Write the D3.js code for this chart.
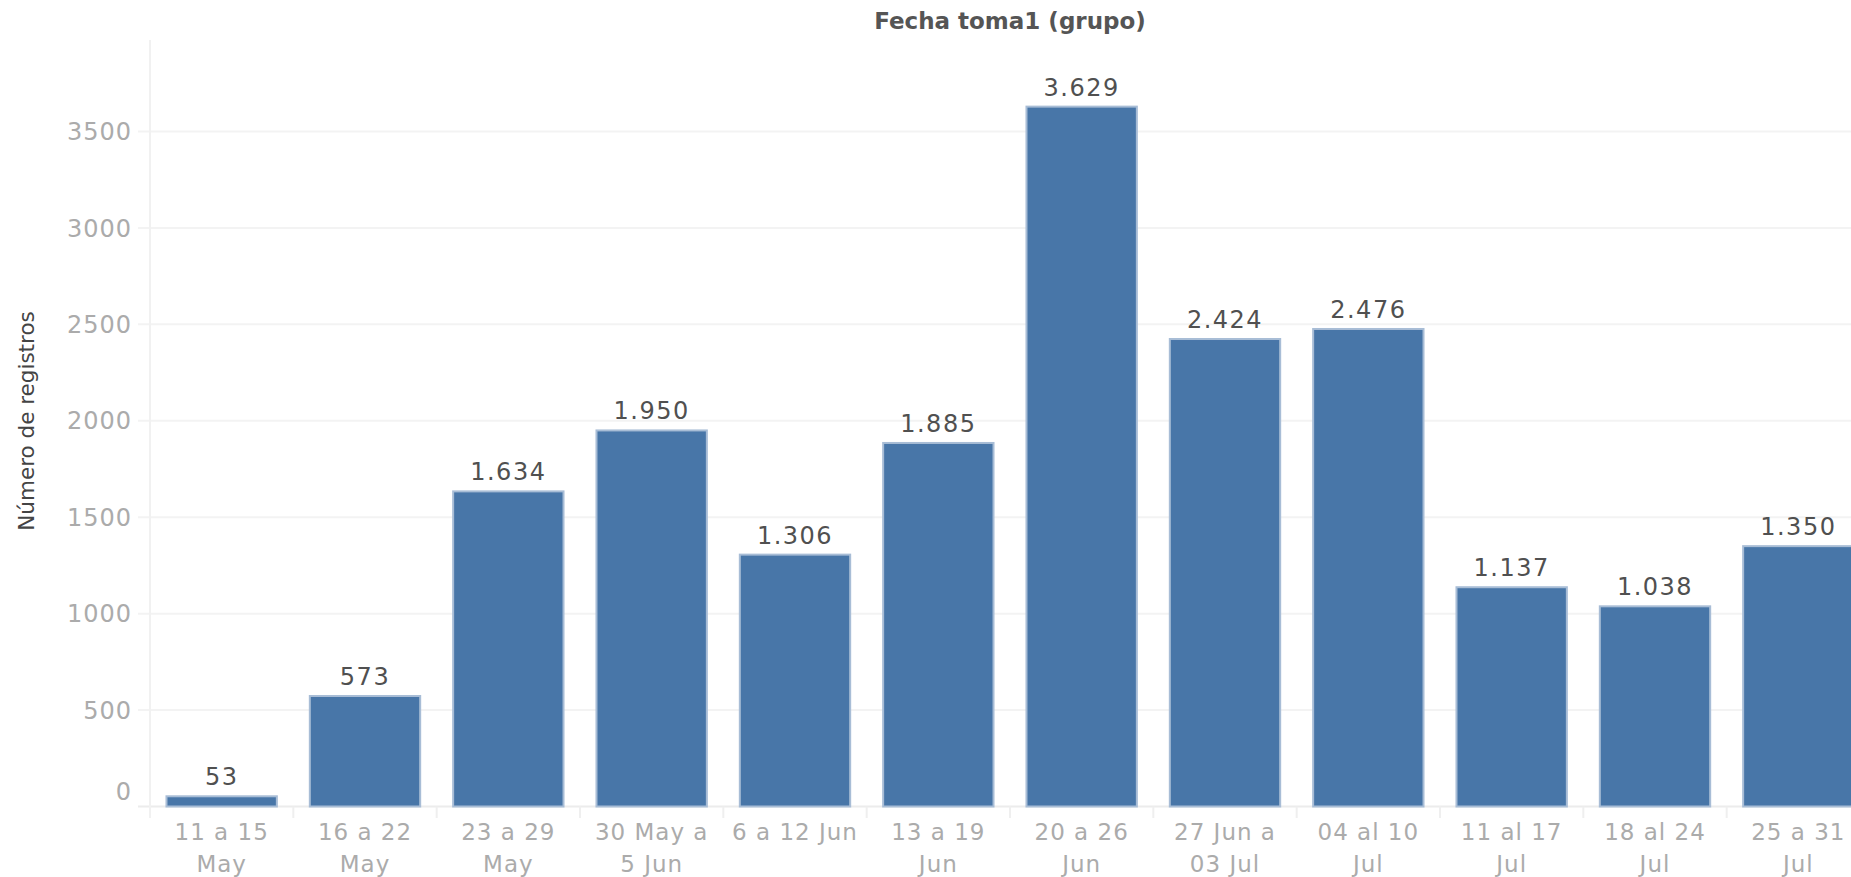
<!DOCTYPE html>
<html>
<head>
<meta charset="utf-8">
<script src="https://cdn.jsdelivr.net/npm/d3@7/dist/d3.min.js"></script>
<style>
  html, body { margin: 0; padding: 0; background: #ffffff; overflow: hidden; }
  svg { display: block; }
</style>
</head>
<body>
<svg id="chart" width="1851" height="877"></svg>
<script>
const categories = [
  ["11 a 15", "May"],
  ["16 a 22", "May"],
  ["23 a 29", "May"],
  ["30 May a", "5 Jun"],
  ["6 a 12 Jun"],
  ["13 a 19", "Jun"],
  ["20 a 26", "Jun"],
  ["27 Jun a", "03 Jul"],
  ["04 al 10", "Jul"],
  ["11 al 17", "Jul"],
  ["18 al 24", "Jul"],
  ["25 a 31", "Jul"]
];
const values = [53, 573, 1634, 1950, 1306, 1885, 3629, 2424, 2476, 1137, 1038, 1350];
const yTicks = [0, 500, 1000, 1500, 2000, 2500, 3000, 3500];
const chartTitle = "Fecha toma1 (grupo)";
const yTitle = "Número de registros";

const svg = d3.select("#chart");
const FONT = "'DejaVu Sans', sans-serif";

const keys = categories.map((c, i) => i);
const x = d3.scaleBand().domain(keys).range([150, 1870]).paddingInner(0.23).paddingOuter(0.115);
const y = d3.scaleLinear().domain([0, 3500]).range([806.5, 131.5]);
const yTop = 40;

const fmt = v => d3.format(",")(v).replace(/,/g, ".");

// gridlines
svg.append("g").selectAll("line").data(yTicks).join("line")
  .attr("x1", 138).attr("x2", 1851)
  .attr("y1", d => y(d)).attr("y2", d => y(d))
  .attr("stroke", d => d === 0 ? "#ececec" : "#f3f3f3")
  .attr("stroke-width", 2);

// vertical axis line
svg.append("line").attr("x1", 150).attr("x2", 150)
  .attr("y1", yTop).attr("y2", 818)
  .attr("stroke", "#f1f1f1").attr("stroke-width", 2);

// band separator ticks
const seps = keys.slice(1).map(k => x(k) - x.step() * x.paddingInner() / 2);
svg.append("g").selectAll("line").data(seps).join("line")
  .attr("x1", d => d).attr("x2", d => d)
  .attr("y1", 806.5).attr("y2", 818)
  .attr("stroke", "#efefef").attr("stroke-width", 2);

// y tick labels
svg.append("g").selectAll("text").data(yTicks).join("text")
  .attr("x", 132)
  .attr("y", d => y(d) - (d === 0 ? 15 : 0))
  .attr("dy", "0.36em")
  .attr("text-anchor", "end")
  .attr("font-family", FONT).attr("font-size", 24)
  .attr("letter-spacing", 1)
  .attr("fill", "#ababab")
  .text(d => d);

// bars
svg.append("g").selectAll("rect").data(values).join("rect")
  .attr("x", (d, i) => x(i))
  .attr("y", d => y(d))
  .attr("width", x.bandwidth())
  .attr("height", d => y(0) - y(d))
  .attr("fill", "#4876a8")
  .attr("stroke", "#a8bdd6")
  .attr("stroke-width", 2);

// value labels
svg.append("g").selectAll("text").data(values).join("text")
  .attr("x", (d, i) => x(i) + x.bandwidth() / 2)
  .attr("y", d => y(d) - 11)
  .attr("text-anchor", "middle")
  .attr("font-family", FONT).attr("font-size", 24)
  .attr("letter-spacing", 1.5)
  .attr("fill", "#505050")
  .text(d => fmt(d));

// x labels
const xl = svg.append("g").selectAll("text").data(categories).join("text")
  .attr("text-anchor", "middle")
  .attr("font-family", FONT).attr("font-size", 23)
  .attr("letter-spacing", 1)
  .attr("fill", "#ababab");
xl.each(function(d, i) {
  const t = d3.select(this);
  d.forEach((line, j) => {
    t.append("tspan")
      .attr("x", x(i) + x.bandwidth() / 2)
      .attr("y", 840 + j * 32)
      .text(line);
  });
});

// title
svg.append("text")
  .attr("x", (150 + 1870) / 2).attr("y", 29)
  .attr("text-anchor", "middle")
  .attr("font-family", FONT).attr("font-size", 23).attr("font-weight", "bold")
  .attr("fill", "#555555")
  .text(chartTitle);

// y title
svg.append("text")
  .attr("transform", "translate(34,421) rotate(-90)")
  .attr("text-anchor", "middle")
  .attr("font-family", FONT).attr("font-size", 21.5)
  .attr("fill", "#444444")
  .text(yTitle);
</script>
</body>
</html>
